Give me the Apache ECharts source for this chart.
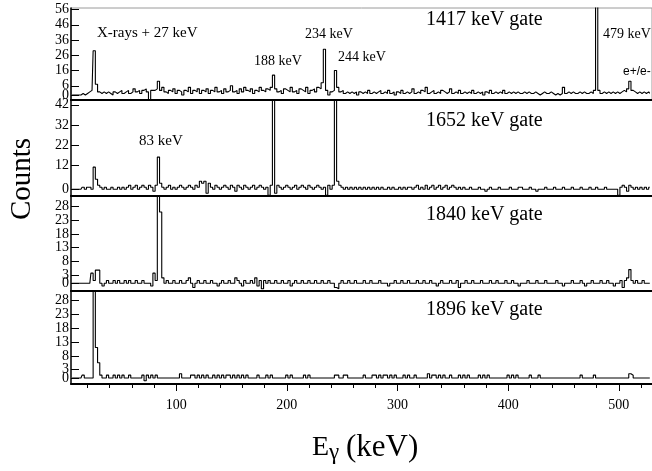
<!DOCTYPE html>
<html>
<head>
<meta charset="utf-8">
<script src="https://cdn.jsdelivr.net/npm/echarts@6/dist/echarts.min.js"></script>
<style>html,body{margin:0;padding:0;background:#fff}#c{width:652px;height:471px}</style>
</head>
<body>
<div id="c"></div>
<script>
// ---- data: gamma-ray coincidence spectra, 2 keV bins, first bin centre 6 keV ----
const binStart = 6;
const binWidth = 2;
const gateNames = ["1417 keV gate", "1652 keV gate", "1840 keV gate", "1896 keV gate"];

const counts1417 = [
  0,0,0,0,0,1,0,1,2,3,29,7,2,1,2,1,2,1,0,2,
  1,2,3,1,2,3,1,2,4,2,3,1,3,4,2,-3,3,3,4,9,
  3,5,2,1,3,2,4,1,3,2,0,3,2,5,1,3,2,4,1,3,
  2,4,1,3,2,5,2,3,1,4,2,3,6,2,3,1,4,2,5,3,
  2,4,1,3,2,5,3,2,4,3,5,13,4,2,3,1,4,3,2,5,
  2,3,1,4,3,2,5,1,3,4,2,5,4,8,30,3,0,2,3,16,
  5,2,3,1,2,1,2,1,2,0,2,1,2,1,3,1,2,1,2,3,
  1,2,1,3,1,2,0,2,1,3,1,2,1,2,4,1,2,1,3,2,
  5,1,2,3,1,2,1,3,2,1,2,4,1,2,1,3,1,2,1,2,
  1,3,1,2,1,2,0,2,1,3,1,2,1,2,1,3,1,2,1,2,
  1,2,1,1,2,1,2,1,1,2,1,0,1,2,1,1,2,1,0,1,
  0,1,5,1,2,1,2,1,1,2,1,2,1,1,2,1,3,70,3,1,
  2,1,2,1,2,1,2,1,2,3,2,4,9,3,2,1,2,1,2,1,
  2,1
];
const counts1652 = [
  0,0,0,0,0,1,0,1,1,0,11,5,2,1,0,1,0,0,1,0,
  0,1,0,1,0,1,2,0,1,2,0,1,2,1,0,2,1,-1,2,16,
  3,1,0,1,2,0,1,0,1,2,1,0,1,2,1,0,2,1,4,3,
  4,-2,3,1,0,2,1,0,1,2,1,0,2,1,-1,2,1,0,2,1,
  0,1,2,0,1,2,1,0,1,-3,2,50,-2,2,1,0,1,2,1,0,
  1,2,0,1,2,1,0,2,1,0,1,2,1,0,1,-3,2,0,2,48,
  4,2,1,0,1,0,1,0,1,0,1,0,1,0,1,0,1,0,1,0,
  1,0,0,1,0,1,0,0,1,0,1,0,1,1,0,1,2,0,1,0,
  2,0,1,2,0,1,2,0,1,2,0,1,2,1,0,1,0,1,0,0,
  1,0,0,0,1,0,0,-1,0,1,0,0,0,1,0,0,0,0,1,0,
  0,0,1,1,0,0,0,1,0,0,-1,0,0,0,1,0,0,0,1,0,
  0,0,1,0,0,0,1,0,0,0,1,0,0,0,1,0,0,1,0,0,
  0,1,0,0,0,0,0,-3,1,2,1,-1,2,1,0,1,0,1,0,1,
  0,1
];
const counts1840 = [
  0,0,0,0,0,0,0,0,0,3.7,1,4.8,4.8,0,-1,0,1,0,0,1,
  0,1,0,0,1,0,1,0,0,1,0,0,1,0,0,0,-1,3.7,1,40,
  26,2,0,1,0,0,1,0,0,1,0,0,1,2,0,-1.5,0,1,0,0,
  1,0,0,1,0,0,-1,0,1,0,0,1,0,0,2,1,0,-1,1,0,
  0,1,0,2,-1,1,-2,1,0,1,0,0,1,0,0,1,0,0,1,-1,
  0,1,0,0,1,0,0,1,0,0,1,0,0,1,0,0,1,0,0,-1.5,
  -2,0,1,0,0,1,0,0,1,0,0,0,1,0,0,1,0,0,0,1,
  0,0,0,-1,0,0,1,0,0,1,0,0,1,0,0,0,1,0,0,1,
  0,0,1,0,0,-1,0,1,0,0,0,1,0,0,1,-1.5,0,0,1,0,
  0,1,0,0,0,1,0,0,0,1,0,0,1,0,0,0,1,0,0,1,
  0,0,-1,0,0,0,1,0,0,0,1,0,0,0,1,0,0,0,0,1,
  0,0,-1,0,0,0,1,0,0,0,1,0,-1,0,0,1,0,0,0,1,
  0,0,1,0,0,-1,0,0,1,-1.5,1,2,5,1,0,1,0,0,1,0,
  0,0
];
const counts1896 = [
  0,0,0,0,0,1,0,0,0,0,40,11,5.5,1,0,0,1,0,0,1,
  0,1,0,1,0,0,1,0,0,0,0,0,1,-1,1,0,1,0,1,0,
  0,0,0,0,0,0,0,0,0,1.5,0,0,0,0,1,1,0,1,0,1,
  0,1,0,0,1,0,1,0,1,0,1,1,0,1,0,1,0,1,0,1,
  0,0,0,0,1,0,0,0,1,0,1,0,0,0,0,0,0,1,0,1,
  0,0,0,0,0,1,0,1,0,0,0,0,0,0,0,0,0,0,0,1,
  1,0,0,1,1,0,0,0,0,0,0,0,1,0,0,0,1,1,0,1,
  0,1,1,0,1,0,1,0,0,0,1,0,1,0,0,1,0,0,0,0,
  0,1.5,0,1,1,0,1,0,1,0,0,1,0,0,0,1,0,1,0,1,
  0,0,0,0,1,0,1,0,1,0,0,0,0,0,0,0,0,1,0,1,
  0,1,0,0,0,0,0,1,0,0,0,1,0,0,0,0,0,0,0,0,
  0,0,0,0,0,0,0,0,0,0,1,0,0,0,0,0,1,0,0,0,
  0,0,0,0,0,0,0,0,0,0,0,0,1.5,1,0,0,0,0,0,0,
  0,0
];

// tick labels
const yTicks1417 = [0, 6, 16, 26, 36, 46, 56];
const yTicks1652 = [0, 12, 22, 32, 42];
const yTicks1840 = [0, 3, 8, 13, 18, 23, 28];
const yTicks1896 = [0, 3, 8, 13, 18, 23, 28];
const xMajorTicks = [100, 200, 300, 400, 500];
const xMinorTicks = [20, 40, 60, 80, 120, 140, 160, 180, 220, 240, 260, 280, 320, 340, 360, 380, 420, 440, 460, 480, 520];

// peak annotations
const peakLabels = ["X-rays + 27 keV", "188 keV", "234 keV", "244 keV", "479 keV", "e+/e-", "83 keV"];

// ---- layout/style ----
const SERIF = "'Liberation Serif','DejaVu Serif',serif";
const allCounts = [counts1417, counts1652, counts1840, counts1896];
const allTicks = [yTicks1417, yTicks1652, yTicks1840, yTicks1896];
const yRanges = [[-3.3, 57], [-3.1, 44.4], [-2.8, 32.0], [-2.2, 31.5]];
const grids = [
  {left: 71, width: 586, top: 8, height: 92},
  {left: 71, width: 586, top: 100, height: 95.5},
  {left: 71, width: 586, top: 195.5, height: 95.5},
  {left: 71, width: 586, top: 291, height: 93}
];
grids[0].show = true; grids[0].borderColor = '#9a9a9a'; grids[0].borderWidth = 1;

const xAxes = grids.map((g, i) => ({
  type: 'value', gridIndex: i, min: 5, max: 530, position: 'bottom',
  axisLine: {show: true, onZero: false, lineStyle: {color: '#000', width: 2}},
  axisTick: i === 3 ? {show: true, inside: false, length: 7, customValues: xMajorTicks, lineStyle: {color: '#000', width: 1}} : {show: false},
  axisLabel: i === 3 ? {show: true, customValues: xMajorTicks, fontFamily: SERIF, fontSize: 14, color: '#000', margin: 14} : {show: false},
  splitLine: {show: false}
}));
xAxes.push({
  type: 'value', gridIndex: 3, min: 5, max: 530, position: 'bottom', offset: 0,
  axisLine: {show: false, onZero: false},
  axisTick: {show: true, inside: false, length: 4, customValues: xMinorTicks, lineStyle: {color: '#000', width: 1}},
  axisLabel: {show: false}, splitLine: {show: false}
});

const labelStyle = {fontFamily: SERIF, fontSize: 14, lineHeight: 7, color: '#000', margin: 2, hideOverlap: false};
// the zero label of the top panel collides with the 42 label below it and gets auto-hidden,
// so it is drawn as a mark label on the top series instead (positioned through the axis scales)
const labelsOf = (i) => allTicks[i].filter(v => !(i === 0 && v === 0));
// primary y axes: line, all ticks, every other label
const yAxes = grids.map((g, i) => ({
  type: 'value', gridIndex: i, min: yRanges[i][0], max: yRanges[i][1], position: 'left',
  axisLine: {show: true, onZero: false, lineStyle: {color: '#000', width: 1.5}},
  axisTick: {show: true, inside: true, length: 8, customValues: allTicks[i], lineStyle: {color: '#000', width: 1}},
  axisLabel: Object.assign({show: true, customValues: labelsOf(i).filter((v, k) => k % 2 === 0)}, labelStyle),
  splitLine: {show: false}
}));
// secondary y axes: remaining labels only (avoids automatic overlap hiding)
grids.forEach((g, i) => {
  yAxes.push({
    type: 'value', gridIndex: i, min: yRanges[i][0], max: yRanges[i][1], position: 'left', offset: 0,
    axisLine: {show: false, onZero: false},
    axisTick: {show: false},
    axisLabel: Object.assign({show: true, customValues: labelsOf(i).filter((v, k) => k % 2 === 1)}, labelStyle),
    splitLine: {show: false}
  });
});

const series = allCounts.map((arr, i) => ({
  type: 'line', xAxisIndex: i, yAxisIndex: i, step: 'middle', symbol: 'none',
  clip: true, animation: false,
  lineStyle: {color: '#000', width: 1.1},
  data: arr.map((v, k) => [binStart + k * binWidth, v])
}));
series[0].markPoint = {
  silent: true, animation: false, symbol: 'rect', symbolSize: 0.01,
  itemStyle: {color: 'rgba(0,0,0,0)'},
  label: {show: true, position: 'left', distance: 2, formatter: String(yTicks1417[0]),
    fontFamily: SERIF, fontSize: 14, color: '#000'},
  data: [{coord: [5, yTicks1417[0]]}]
};

function txt(x, y, text, size, family, align) {
  return {type: 'text', x: x, y: y, silent: true, z: 100,
    style: {text: text, fontSize: size, fontFamily: family || SERIF, fill: '#000', align: align || 'left', verticalAlign: 'middle'}};
}

const graphics = [
  txt(426, 20, gateNames[0], 20),
  txt(426, 121, gateNames[1], 20),
  txt(426, 215, gateNames[2], 20),
  txt(426, 310, gateNames[3], 20),
  txt(97, 33, peakLabels[0], 15),
  txt(254, 61, peakLabels[1], 14),
  txt(305, 34, peakLabels[2], 14),
  txt(338, 57, peakLabels[3], 14),
  txt(603, 34, peakLabels[4], 14),
  txt(623, 72, peakLabels[5], 12, "'Liberation Sans',Arial,sans-serif"),
  txt(139, 141, peakLabels[6], 15),
  {type: 'text', x: 22, y: 179, rotation: Math.PI / 2, silent: true,
    style: {text: 'Counts', fontSize: 29, fontFamily: SERIF, fill: '#000', align: 'center', verticalAlign: 'middle'}},
  txt(312, 448, 'E', 28),
  txt(329, 453, 'γ', 23),
  txt(346, 448, '(keV)', 31)
];

const chart = echarts.init(document.getElementById('c'), null, {renderer: 'canvas'});
chart.setOption({
  animation: false,
  backgroundColor: '#fff',
  grid: grids,
  xAxis: xAxes,
  yAxis: yAxes,
  series: series,
  graphic: graphics
});
</script>
</body>
</html>
